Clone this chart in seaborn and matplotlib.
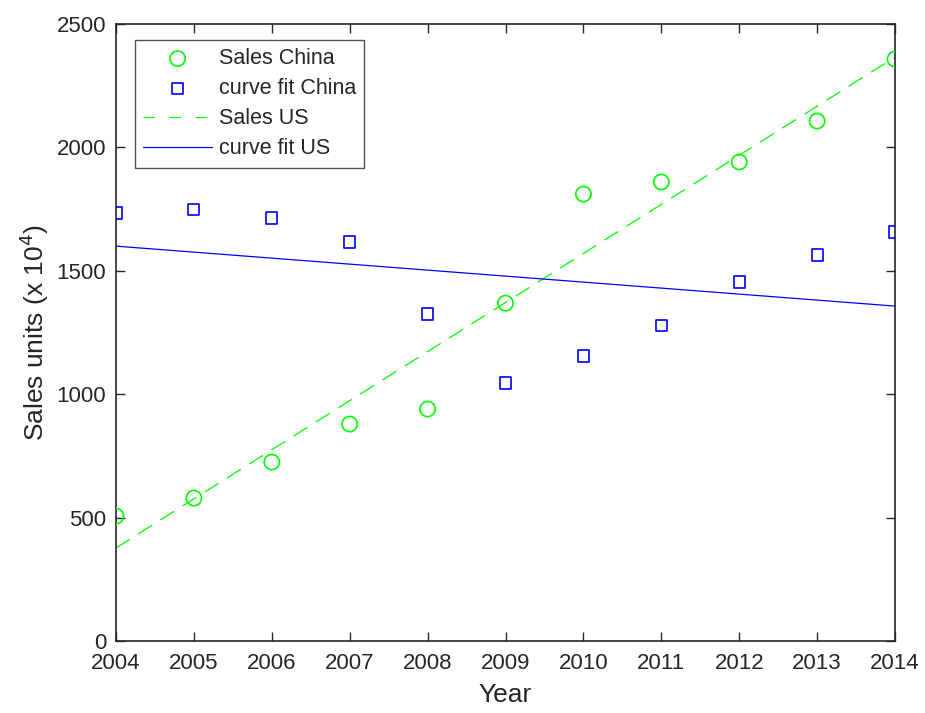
import numpy as np
import pandas as pd
import seaborn as sns
import matplotlib.pyplot as plt

years = [2004, 2005, 2006, 2007, 2008, 2009, 2010, 2011, 2012, 2013, 2014]
sales_china = [506, 579, 725, 879, 940, 1369, 1811, 1860, 1941, 2107, 2358]
fit_china = [1734, 1750, 1714, 1617, 1325, 1045, 1155, 1280, 1455, 1564, 1657]
line_years = [2004, 2014]
sales_us = [377, 2366]
fit_us = [1600, 1357]

sns.set_style("white")
plt.rcParams['font.family'] = ['Liberation Sans', 'DejaVu Sans']

fig = plt.figure(figsize=(9.25, 7.13), dpi=100)
ax = fig.add_axes([0.1254, 0.101, 0.8422, 0.8653])

df_pts = pd.DataFrame({"Year": years, "china": sales_china, "fit": fit_china})
df_lines = pd.DataFrame({"Year": line_years, "us": sales_us, "fitus": fit_us})

sns.scatterplot(data=df_pts, x="Year", y="china", ax=ax, marker="o", s=120,
                facecolors="none", edgecolor="#00ff00", linewidth=1.2, label="Sales China", zorder=3)
sns.scatterplot(data=df_pts, x="Year", y="fit", ax=ax, marker="s", s=65,
                facecolors="none", edgecolor="#0000ff", linewidth=1.2, label="curve fit China", zorder=3)
sns.lineplot(data=df_lines, x="Year", y="us", ax=ax, color="#00ff00", linewidth=0.9,
             linestyle="--", label="Sales US")
sns.lineplot(data=df_lines, x="Year", y="fitus", ax=ax, color="#0000ff", linewidth=0.9,
             label="curve fit US")
ax.lines[0].set_dashes((13, 8))

ax.set_xlim(2004, 2014)
ax.set_ylim(0, 2500)
ax.set_xticks(years)
ax.set_yticks([0, 500, 1000, 1500, 2000, 2500])
ax.tick_params(direction="in", length=6.5, width=1, labelsize=16, colors="#262626",
               top=True, right=True, bottom=True, left=True)
ax.tick_params(axis="x", pad=9)
ax.tick_params(axis="y", pad=7)
for s in ax.spines.values():
    s.set_color("#262626")
    s.set_linewidth(1.2)
ax.set_xlabel("Year", fontsize=19, color="#262626", labelpad=6)
ax.set_ylabel("Sales units (x 10$^4$)", fontsize=19, color="#262626", labelpad=4)

leg = ax.legend(loc="upper left", bbox_to_anchor=(0.0244, 0.974), fontsize=15.5,
                frameon=True, fancybox=False, edgecolor="#262626", handlelength=3.2,
                borderpad=0.38, labelspacing=0.42, handletextpad=0.3, borderaxespad=0)
leg.get_frame().set_linewidth(1.0)
leg.get_lines()[0].set_dashes((9, 12))

fig.savefig("out.png", dpi=100)
